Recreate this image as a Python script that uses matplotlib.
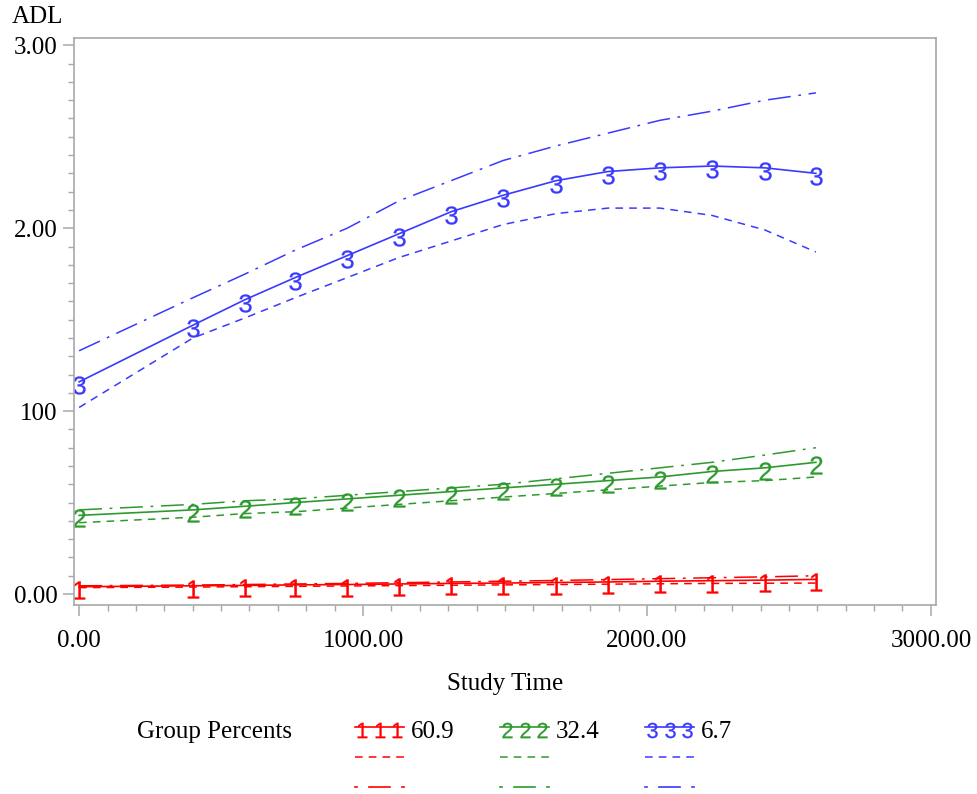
import numpy as np
import matplotlib
matplotlib.use("Agg")
import matplotlib.pyplot as plt
from matplotlib.lines import Line2D
from matplotlib.transforms import ScaledTranslation

plt.rcParams['font.family'] = ['Liberation Serif', 'DejaVu Serif']
plt.rcParams['mathtext.fontset'] = 'custom'
plt.rcParams['mathtext.rm'] = 'Liberation Sans'

# === DATA ===
times = [0, 401, 585, 761, 944, 1127, 1310, 1493, 1680, 1863, 2046, 2229, 2416, 2595]

g1_fit = [0.040, 0.045, 0.047, 0.050, 0.052, 0.055, 0.058, 0.060, 0.063, 0.066, 0.070, 0.073, 0.076, 0.080]
g1_low = [0.035, 0.038, 0.040, 0.042, 0.044, 0.046, 0.048, 0.050, 0.052, 0.054, 0.056, 0.058, 0.059, 0.060]
g1_up = [0.045, 0.049, 0.052, 0.055, 0.058, 0.062, 0.066, 0.070, 0.074, 0.079, 0.084, 0.089, 0.094, 0.100]

g2_fit = [0.43, 0.46, 0.48, 0.50, 0.52, 0.54, 0.56, 0.58, 0.60, 0.62, 0.64, 0.67, 0.69, 0.72]
g2_low = [0.39, 0.42, 0.44, 0.45, 0.47, 0.49, 0.51, 0.53, 0.55, 0.57, 0.59, 0.61, 0.62, 0.64]
g2_up = [0.46, 0.49, 0.51, 0.52, 0.54, 0.56, 0.58, 0.60, 0.63, 0.66, 0.69, 0.72, 0.76, 0.80]

g3_fit = [1.16, 1.47, 1.61, 1.73, 1.85, 1.97, 2.09, 2.18, 2.26, 2.31, 2.33, 2.34, 2.33, 2.30]
g3_low = [1.02, 1.40, 1.51, 1.62, 1.73, 1.84, 1.93, 2.02, 2.08, 2.11, 2.11, 2.07, 1.99, 1.87]
g3_up = [1.33, 1.62, 1.75, 1.88, 2.00, 2.15, 2.26, 2.37, 2.45, 2.52, 2.59, 2.64, 2.70, 2.74]

group_pcts = ['60.9', '32.4', '6.7']
group_colors = ['#ff0000', '#2e9a2e', '#3a3aff']
group_marks = ['1', '2', '3']

fits = [g1_fit, g2_fit, g3_fit]
lows = [g1_low, g2_low, g3_low]
ups = [g1_up, g2_up, g3_up]

DASHDOT = (0, (15, 5, 1.8, 5))
DASHED = (0, (5, 4))
FS = 18

fig = plt.figure(figsize=(9.78, 7.94), dpi=100)
ax = fig.add_axes([74 / 978, 1 - 605 / 794, (936 - 74) / 978, (605 - 38) / 794])
# symbols hang slightly below the curve, as in the SAS output
shift = ax.transData + ScaledTranslation(0, -3 / 100, fig.dpi_scale_trans)

for fit, low, up, col, mk in zip(fits, lows, ups, group_colors, group_marks):
    ax.plot(times, up, color=col, lw=1.1, ls=DASHDOT)
    ax.plot(times, low, color=col, lw=1.1, ls=DASHED)
    ax.plot(times, fit, color=col, lw=1.2)
    ax.plot(times, fit, color=col, lw=0, marker=f'$\\mathrm{{{mk}}}$',
            markersize=13, markeredgewidth=0.2, transform=shift)

ax.set_xlim(-18, 3018)
ax.set_ylim(-0.06, 3.04)
ax.set_xticks([0, 1000, 2000, 3000])
ax.set_xticklabels(['0.00', '1000.00', '2000.00', '3000.00'])
ax.set_xticks(np.arange(0, 3001, 100), minor=True)
ax.set_yticks([0, 1, 2, 3])
ax.set_yticklabels(['0.00', '100', '2.00', '3.00'])
ax.set_yticks(np.arange(0, 3.01, 0.1), minor=True)
for s in ax.spines.values():
    s.set_color('#a8a8a8')
    s.set_linewidth(1.2)
ax.tick_params(which='both', direction='out', color='#a8a8a8', labelsize=FS)
ax.tick_params(which='major', length=8, width=1.1)
ax.tick_params(axis='x', which='major', pad=10)
ax.tick_params(axis='y', which='major', pad=4)
ax.tick_params(which='minor', length=4, width=1.0)

fig.text(12 / 978, 1 - 17 / 794, 'ADL', fontsize=FS, ha='left', va='center')
fig.text(505 / 978, 1 - 684 / 794, 'Study Time', fontsize=FS, ha='center', va='center')

# legend
lg = fig.add_axes([0, 0, 1, 1], facecolor='none')
lg.set_xlim(0, 978)
lg.set_ylim(794, 0)
lg.axis('off')
lg.text(137, 732, 'Group Percents', fontsize=FS, ha='left', va='center')
starts = [355, 500, 645]
for x0, col, mk, pct in zip(starts, group_colors, group_marks, group_pcts):
    lg.add_line(Line2D([x0, x0 + 49], [727, 727], color=col, lw=1.2))
    lg.add_line(Line2D([x0 + 7, x0 + 24.5, x0 + 42], [730] * 3, color=col, lw=0,
                       marker=f'$\\mathrm{{{mk}}}$', markersize=11, markeredgewidth=0.2))
    lg.text(x0 + 56, 732, pct, fontsize=FS, ha='left', va='center')
    lg.add_line(Line2D([x0, x0 + 49], [757, 757], color=col, lw=1.1, ls=DASHED))
    # dot - dash - dot sample
    for a, b in [(x0, x0 + 2), (x0 + 14, x0 + 35), (x0 + 47, x0 + 49)]:
        lg.add_line(Line2D([a, b], [787, 787], color=col, lw=1.2))

fig.savefig('out.png', dpi=100)
